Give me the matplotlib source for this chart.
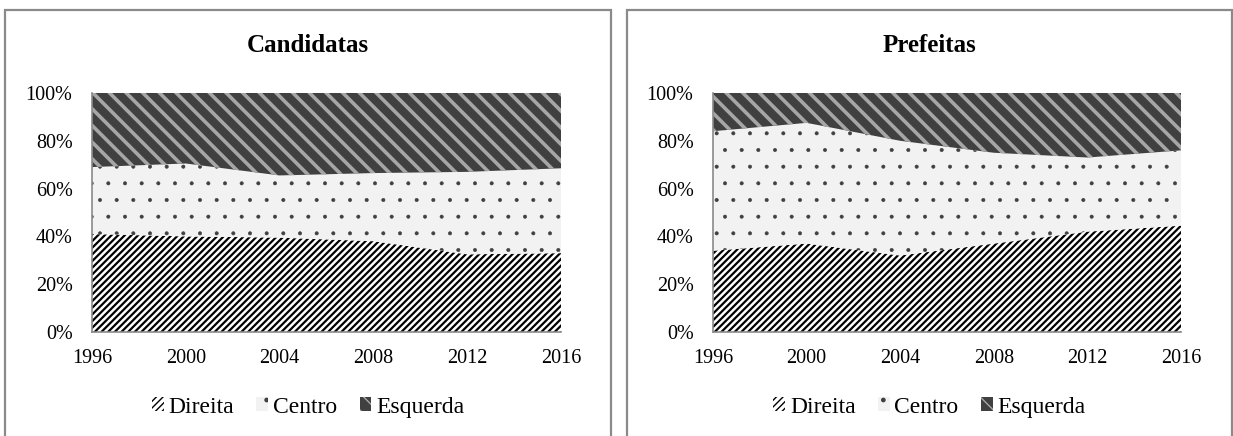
import matplotlib.pyplot as plt
import matplotlib as mpl
from matplotlib.patches import Rectangle, Patch
import numpy as np

plt.rcParams['font.family'] = ['Liberation Serif', 'DejaVu Serif']

anos = [1996, 2000, 2004, 2008, 2012, 2016]

# participação (%) por campo ideológico
cand_direita = [41, 40, 39.5, 38, 32.5, 33]
cand_centro = [28, 30.5, 26, 28.5, 34.5, 35.5]
cand_esquerda = [31, 29.5, 34.5, 33.5, 33, 31.5]

pref_direita = [34, 37, 32, 37, 42, 44.5]
pref_centro = [50, 50.5, 48, 38, 31, 31.5]
pref_esquerda = [16, 12.5, 20, 25, 27, 24]

titulos = ['Candidatas', 'Prefeitas']
series = ['Direita', 'Centro', 'Esquerda']

# estilo de cada camada: fundo, cor da hachura, hachura, espessura
estilos = {
    'Direita': ('white', 'black', '/' * 5, 1.6),
    'Centro': ('#f2f2f2', '#404040', '.', 0.4),
    'Esquerda': ('#404040', '#a6a6a6', '\\' * 2, 2.6),
}

W, H = 1233, 436
fig = plt.figure(figsize=(W / 100, H / 100), dpi=100)

paineis = [
    (5, 611, 92, 561, cand_direita, cand_centro, cand_esquerda),
    (627, 1232, 713, 1181, pref_direita, pref_centro, pref_esquerda),
]

for i, (px0, px1, ax0, ax1, d, c, e) in enumerate(paineis):
    # moldura do painel
    fig.add_artist(Rectangle((px0 / W, -0.01), (px1 - px0) / W, (H - 10) / H + 0.01,
                             transform=fig.transFigure, fill=False,
                             edgecolor='#8a8a8a', linewidth=1.6))
    fig.text((px0 + px1) / 2 / W, 1 - 45 / H, titulos[i], ha='center', va='center',
             fontsize=18, fontweight='bold')

    ax = fig.add_axes([ax0 / W, 1 - 332 / H, (ax1 - ax0) / W, (332 - 93) / H])
    base = np.zeros(len(anos))
    for nome, vals in zip(series, [d, c, e]):
        fc, hc, hatch, lw = estilos[nome]
        topo = base + np.array(vals)
        with mpl.rc_context({'hatch.linewidth': lw}):
            ax.fill_between(anos, base, topo, facecolor=fc, edgecolor=hc,
                            hatch=hatch, linewidth=0)
        base = topo

    ax.set_xlim(1996, 2016)
    ax.set_ylim(0, 100)
    ax.set_xticks(anos)
    ax.set_yticks(range(0, 101, 20))
    ax.set_yticklabels([f'{v}%' for v in range(0, 101, 20)])
    ax.tick_params(length=0, labelsize=14.5, pad=14)
    ax.tick_params(axis='x', pad=12)
    for lado in ['top', 'right']:
        ax.spines[lado].set_visible(False)
    for lado in ['left', 'bottom']:
        ax.spines[lado].set_color('#8a8a8a')
        ax.spines[lado].set_linewidth(1.2)

    handles = []
    for nome in series:
        fc, hc, hatch, lw = estilos[nome]
        with mpl.rc_context({'hatch.linewidth': lw}):
            handles.append(Patch(facecolor=fc, edgecolor=hc, hatch=hatch, linewidth=0, label=nome))
    fig.legend(handles=handles, loc='center', ncol=3, frameon=False,
               bbox_to_anchor=((px0 + px1) / 2 / W, 1 - 407 / H),
               fontsize=17, handlelength=0.5, handleheight=0.5,
               handletextpad=0.2, columnspacing=0.95)

fig.savefig('out.png', dpi=100)
